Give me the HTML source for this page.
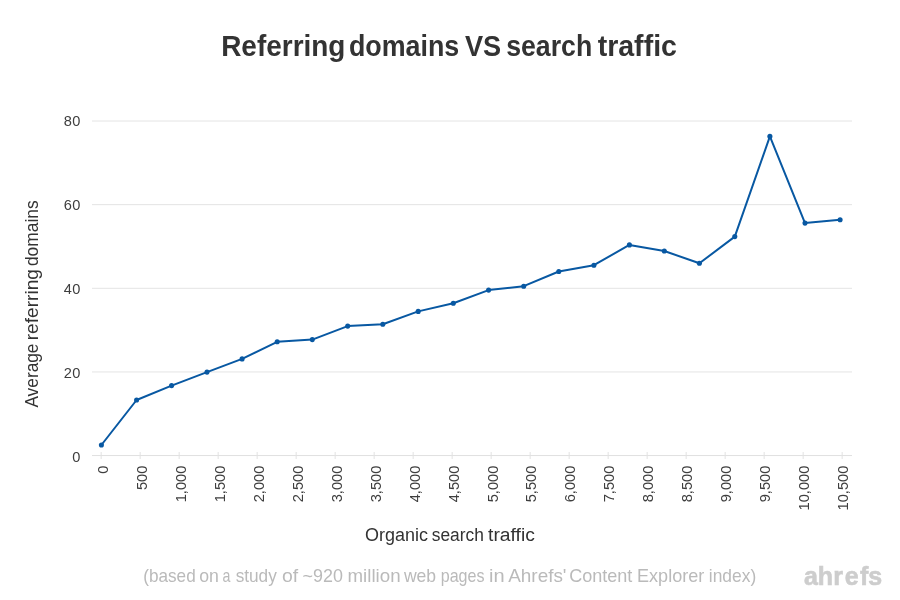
<!DOCTYPE html>
<html lang="en"><head><meta charset="utf-8"><title>Referring domains VS search traffic</title>
<style>html,body{margin:0;padding:0;background:#fff}svg{display:block}text{font-family:"Liberation Sans",sans-serif}</style></head><body>
<svg width="900" height="600" viewBox="0 0 900 600">
<rect width="900" height="600" fill="#fff"/>
<text y="55.8" font-size="30.4" fill="#333" font-weight="bold"><tspan x="221.16" textLength="124.31" lengthAdjust="spacingAndGlyphs">Referring</tspan> <tspan x="348.90" textLength="110.33" lengthAdjust="spacingAndGlyphs">domains</tspan> <tspan x="464.98" textLength="36.25" lengthAdjust="spacingAndGlyphs">VS</tspan> <tspan x="506.21" textLength="85.99" lengthAdjust="spacingAndGlyphs">search</tspan> <tspan x="597.65" textLength="79.29" lengthAdjust="spacingAndGlyphs">traffic</tspan></text>
<path d="M92 121.0H852" stroke="#e4e4e4" stroke-width="1" fill="none"/>
<path d="M92 204.65H852" stroke="#e4e4e4" stroke-width="1" fill="none"/>
<path d="M92 288.3H852" stroke="#e4e4e4" stroke-width="1" fill="none"/>
<path d="M92 371.95H852" stroke="#e4e4e4" stroke-width="1" fill="none"/>
<path d="M92 455.55H852" stroke="#e0e0e0" stroke-width="1" fill="none"/>
<path d="M101.15 452V459M140.15 452V459M179.15 452V459M218.15 452V459M257.15 452V459M296.15 452V459M335.15 452V459M374.15 452V459M413.15 452V459M452.15 452V459M491.15 452V459M530.15 452V459M569.15 452V459M608.15 452V459M647.15 452V459M686.15 452V459M725.15 452V459M764.15 452V459M803.15 452V459M842.15 452V459" stroke="#e2e2e2" stroke-width="1" fill="none"/>
<text x="80.6" y="126" font-size="14.6" fill="#3e3e3e" text-anchor="end" letter-spacing="0.25">80</text>
<text x="80.6" y="210" font-size="14.6" fill="#3e3e3e" text-anchor="end" letter-spacing="0.25">60</text>
<text x="80.6" y="294" font-size="14.6" fill="#3e3e3e" text-anchor="end" letter-spacing="0.25">40</text>
<text x="80.6" y="378" font-size="14.6" fill="#3e3e3e" text-anchor="end" letter-spacing="0.25">20</text>
<text x="80.6" y="462" font-size="14.6" fill="#3e3e3e" text-anchor="end" letter-spacing="0.25">0</text>
<text transform="translate(107.5 465.6) rotate(-90)" font-size="14.7" fill="#3e3e3e" text-anchor="end">0</text>
<text transform="translate(146.5 465.6) rotate(-90)" font-size="14.7" fill="#3e3e3e" text-anchor="end">500</text>
<text transform="translate(185.5 465.6) rotate(-90)" font-size="14.7" fill="#3e3e3e" text-anchor="end">1,000</text>
<text transform="translate(224.5 465.6) rotate(-90)" font-size="14.7" fill="#3e3e3e" text-anchor="end">1,500</text>
<text transform="translate(263.5 465.6) rotate(-90)" font-size="14.7" fill="#3e3e3e" text-anchor="end">2,000</text>
<text transform="translate(302.5 465.6) rotate(-90)" font-size="14.7" fill="#3e3e3e" text-anchor="end">2,500</text>
<text transform="translate(341.5 465.6) rotate(-90)" font-size="14.7" fill="#3e3e3e" text-anchor="end">3,000</text>
<text transform="translate(380.5 465.6) rotate(-90)" font-size="14.7" fill="#3e3e3e" text-anchor="end">3,500</text>
<text transform="translate(419.5 465.6) rotate(-90)" font-size="14.7" fill="#3e3e3e" text-anchor="end">4,000</text>
<text transform="translate(458.5 465.6) rotate(-90)" font-size="14.7" fill="#3e3e3e" text-anchor="end">4,500</text>
<text transform="translate(497.5 465.6) rotate(-90)" font-size="14.7" fill="#3e3e3e" text-anchor="end">5,000</text>
<text transform="translate(536.4 465.6) rotate(-90)" font-size="14.7" fill="#3e3e3e" text-anchor="end">5,500</text>
<text transform="translate(575.4 465.6) rotate(-90)" font-size="14.7" fill="#3e3e3e" text-anchor="end">6,000</text>
<text transform="translate(614.4 465.6) rotate(-90)" font-size="14.7" fill="#3e3e3e" text-anchor="end">7,500</text>
<text transform="translate(653.4 465.6) rotate(-90)" font-size="14.7" fill="#3e3e3e" text-anchor="end">8,000</text>
<text transform="translate(692.4 465.6) rotate(-90)" font-size="14.7" fill="#3e3e3e" text-anchor="end">8,500</text>
<text transform="translate(731.4 465.6) rotate(-90)" font-size="14.7" fill="#3e3e3e" text-anchor="end">9,000</text>
<text transform="translate(770.4 465.6) rotate(-90)" font-size="14.7" fill="#3e3e3e" text-anchor="end">9,500</text>
<text transform="translate(809.4 465.6) rotate(-90)" font-size="14.7" fill="#3e3e3e" text-anchor="end">10,000</text>
<text transform="translate(848.4 465.6) rotate(-90)" font-size="14.7" fill="#3e3e3e" text-anchor="end">10,500</text>
<polyline fill="none" stroke="#0858a2" stroke-width="2" stroke-linejoin="round" stroke-linecap="round" points="101.4,445.0 136.6,400.0 171.6,385.6 207.0,372.1 242.1,358.9 277.2,341.8 312.3,339.6 347.7,326.1 382.8,324.3 418.2,311.4 453.3,303.2 488.6,290.1 523.7,286.2 558.8,271.5 593.9,265.2 629.4,244.9 664.3,251.0 699.4,263.3 734.8,236.6 769.9,136.4 805.0,223.1 840.1,219.8"/>
<circle cx="101.4" cy="445.0" r="2.55" fill="#0858a2"/>
<circle cx="136.6" cy="400.0" r="2.55" fill="#0858a2"/>
<circle cx="171.6" cy="385.6" r="2.55" fill="#0858a2"/>
<circle cx="207.0" cy="372.1" r="2.55" fill="#0858a2"/>
<circle cx="242.1" cy="358.9" r="2.55" fill="#0858a2"/>
<circle cx="277.2" cy="341.8" r="2.55" fill="#0858a2"/>
<circle cx="312.3" cy="339.6" r="2.55" fill="#0858a2"/>
<circle cx="347.7" cy="326.1" r="2.55" fill="#0858a2"/>
<circle cx="382.8" cy="324.3" r="2.55" fill="#0858a2"/>
<circle cx="418.2" cy="311.4" r="2.55" fill="#0858a2"/>
<circle cx="453.3" cy="303.2" r="2.55" fill="#0858a2"/>
<circle cx="488.6" cy="290.1" r="2.55" fill="#0858a2"/>
<circle cx="523.7" cy="286.2" r="2.55" fill="#0858a2"/>
<circle cx="558.8" cy="271.5" r="2.55" fill="#0858a2"/>
<circle cx="593.9" cy="265.2" r="2.55" fill="#0858a2"/>
<circle cx="629.4" cy="244.9" r="2.55" fill="#0858a2"/>
<circle cx="664.3" cy="251.0" r="2.55" fill="#0858a2"/>
<circle cx="699.4" cy="263.3" r="2.55" fill="#0858a2"/>
<circle cx="734.8" cy="236.6" r="2.55" fill="#0858a2"/>
<circle cx="769.9" cy="136.4" r="2.55" fill="#0858a2"/>
<circle cx="805.0" cy="223.1" r="2.55" fill="#0858a2"/>
<circle cx="840.1" cy="219.8" r="2.55" fill="#0858a2"/>
<text y="541.3" font-size="18.8" fill="#333"><tspan x="364.96" textLength="62.94" lengthAdjust="spacingAndGlyphs">Organic</tspan> <tspan x="431.74" textLength="52.13" lengthAdjust="spacingAndGlyphs">search</tspan> <tspan x="488.04" textLength="46.77" lengthAdjust="spacingAndGlyphs">traffic</tspan></text>
<text transform="translate(37.9 0) rotate(-90)" y="0" font-size="18.6" fill="#333"><tspan x="-407.60" textLength="64.07" lengthAdjust="spacingAndGlyphs">Average</tspan> <tspan x="-340.29" textLength="71.27" lengthAdjust="spacingAndGlyphs">referring</tspan> <tspan x="-266.11" textLength="65.74" lengthAdjust="spacingAndGlyphs">domains</tspan></text>
<text y="582.0" font-size="18.5" fill="#bababa"><tspan x="143.26" textLength="52.45" lengthAdjust="spacingAndGlyphs">(based</tspan> <tspan x="199.18" textLength="19.67" lengthAdjust="spacingAndGlyphs">on</tspan> <tspan x="222.62" textLength="7.91" lengthAdjust="spacingAndGlyphs">a</tspan> <tspan x="235.63" textLength="41.14" lengthAdjust="spacingAndGlyphs">study</tspan> <tspan x="282.01" textLength="16.21" lengthAdjust="spacingAndGlyphs">of</tspan> <tspan x="302.57" textLength="40.38" lengthAdjust="spacingAndGlyphs">~920</tspan> <tspan x="347.54" textLength="53.05" lengthAdjust="spacingAndGlyphs">million</tspan> <tspan x="403.90" textLength="32.27" lengthAdjust="spacingAndGlyphs">web</tspan> <tspan x="440.72" textLength="43.75" lengthAdjust="spacingAndGlyphs">pages</tspan> <tspan x="488.95" textLength="15.60" lengthAdjust="spacingAndGlyphs">in</tspan> <tspan x="508.20" textLength="58.29" lengthAdjust="spacingAndGlyphs">Ahrefs'</tspan> <tspan x="569.15" textLength="63.22" lengthAdjust="spacingAndGlyphs">Content</tspan> <tspan x="637.04" textLength="67.22" lengthAdjust="spacingAndGlyphs">Explorer</tspan> <tspan x="708.83" textLength="47.34" lengthAdjust="spacingAndGlyphs">index)</tspan></text>
<text x="804.06 817.75 833.25 844.69 859.88 868.23" y="584.9" font-size="25" font-weight="bold" fill="#cdcdcd" stroke="#cdcdcd" stroke-width="0.6">ahrefs</text>
</svg></body></html>
